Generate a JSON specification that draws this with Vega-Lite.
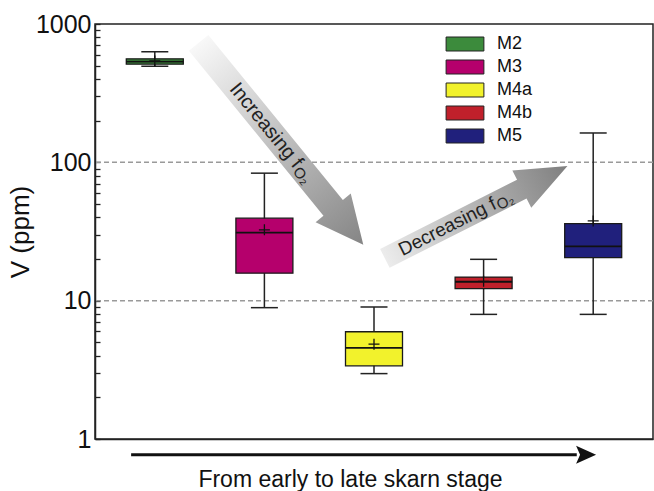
{
  "$schema": "https://vega.github.io/schema/vega-lite/v6.json",
  "width": 558,
  "height": 415,
  "autosize": "none",
  "padding": {"left": 95, "top": 24, "right": 1, "bottom": 52},
  "background": "white",
  "config": {
    "font": "Liberation Sans",
    "view": {"stroke": "#222", "strokeWidth": 1.5}
  },
  "datasets": {
    "stats": [
      {"stage": "M2", "order": 1, "lower": 495, "q1": 512, "median": 535, "q3": 560, "upper": 630, "mean": 540},
      {"stage": "M3", "order": 2, "lower": 8.9, "q1": 15.8, "median": 31, "q3": 39.5, "upper": 83.5, "mean": 32.5},
      {"stage": "M4a", "order": 3, "lower": 2.97, "q1": 3.38, "median": 4.56, "q3": 5.96, "upper": 9.0, "mean": 4.85},
      {"stage": "M4b", "order": 4, "lower": 7.96, "q1": 12.2, "median": 13.7, "q3": 14.8, "upper": 19.9, "mean": 13.8},
      {"stage": "M5", "order": 5, "lower": 7.96, "q1": 20.5, "median": 24.7, "q3": 36, "upper": 163, "mean": 37.7}
    ],
    "guides": [{"v": 10}, {"v": 100}]
  },
  "resolve": {"axis": {"y": "independent"}},
  "layer": [
    {
      "data": {"name": "guides"},
      "mark": {"type": "rule", "color": "#9a9a9a", "strokeWidth": 1.5, "strokeDash": [5, 3]},
      "encoding": {
        "y": {
          "field": "v",
          "type": "quantitative",
          "scale": {"type": "log", "domain": [1, 1000], "nice": false},
          "axis": {
            "orient": "left",
            "title": "V (ppm)",
            "values": [1, 10, 100, 1000],
            "format": "d",
            "grid": false,
            "ticks": false,
            "domainColor": "#222",
            "domainWidth": 1.5,
            "labelPadding": 4,
            "labelFontSize": 25,
            "labelColor": "#111",
            "labelFlush": false,
            "labelOverlap": false,
            "titleFontSize": 26,
            "titleFontWeight": "normal",
            "titleColor": "#111",
            "titlePadding": 2
          }
        }
      }
    },
    {
      "data": {"values": [{"x": 2.151, "y": 136.1}]},
      "mark": {
        "type": "point",
        "shape": "M-1,-0.096L0.634,-0.096L0.634,-0.174L1,0L0.634,0.174L0.634,0.096L-1,0.096Z",
        "size": 67912,
        "angle": 50.8,
        "filled": true,
        "opacity": 1,
        "strokeWidth": 0,
        "fill": {
          "gradient": "linear",
          "x1": 0, "y1": 0, "x2": 1, "y2": 0,
          "stops": [{"offset": 0, "color": "#f8f8f8"}, {"offset": 1, "color": "#858585"}]
        }
      },
      "encoding": {
        "x": {"field": "x", "type": "quantitative"},
        "y": {"field": "y", "type": "quantitative", "axis": null}
      }
    },
    {
      "data": {"values": [{"x": 2.151, "y": 136.1}]},
      "mark": {"type": "text", "text": "Increasing f", "angle": 50.8, "align": "right", "baseline": "middle", "dx": 28, "fontSize": 20, "color": "#222"},
      "encoding": {
        "x": {"field": "x", "type": "quantitative"},
        "y": {"field": "y", "type": "quantitative", "axis": null}
      }
    },
    {
      "data": {"values": [{"x": 2.151, "y": 136.1}]},
      "mark": {"type": "text", "text": "O₂", "angle": 50.8, "align": "left", "baseline": "middle", "dx": 29, "dy": 4, "fontSize": 15, "color": "#222"},
      "encoding": {
        "x": {"field": "x", "type": "quantitative"},
        "y": {"field": "y", "type": "quantitative", "axis": null}
      }
    },
    {
      "data": {"values": [{"x": 3.932, "y": 43.6}]},
      "mark": {
        "type": "point",
        "shape": "M-1,-0.103L0.5,-0.103L0.5,-0.205L1,0L0.5,0.205L0.5,0.103L-1,0.103Z",
        "size": 41861,
        "angle": -26.8,
        "filled": true,
        "opacity": 1,
        "strokeWidth": 0,
        "fill": {
          "gradient": "linear",
          "x1": 0, "y1": 0, "x2": 1, "y2": 0,
          "stops": [{"offset": 0, "color": "#ececec"}, {"offset": 1, "color": "#7f7f7f"}]
        }
      },
      "encoding": {
        "x": {"field": "x", "type": "quantitative"},
        "y": {"field": "y", "type": "quantitative", "axis": null}
      }
    },
    {
      "data": {"values": [{"x": 3.932, "y": 43.6}]},
      "mark": {"type": "text", "text": "Decreasing f", "angle": -26.8, "align": "right", "baseline": "middle", "dx": 21, "fontSize": 19, "color": "#222"},
      "encoding": {
        "x": {"field": "x", "type": "quantitative"},
        "y": {"field": "y", "type": "quantitative", "axis": null}
      }
    },
    {
      "data": {"values": [{"x": 3.932, "y": 43.6}]},
      "mark": {"type": "text", "text": "O₂", "angle": -26.8, "align": "left", "baseline": "middle", "dx": 22, "dy": 4, "fontSize": 15, "color": "#222"},
      "encoding": {
        "x": {"field": "x", "type": "quantitative"},
        "y": {"field": "y", "type": "quantitative", "axis": null}
      }
    },
    {
      "data": {"values": [{"x": 0.784, "x2": 4.85, "y": 0.77}]},
      "mark": {"type": "rule", "color": "#111", "strokeWidth": 3},
      "encoding": {
        "x": {"field": "x", "type": "quantitative"},
        "x2": {"field": "x2"},
        "y": {"field": "y", "type": "quantitative", "axis": null}
      }
    },
    {
      "data": {"values": [{"x": 4.935, "y": 0.77}]},
      "mark": {"type": "point", "shape": "M-1,-0.9L1,0L-1,0.9L-0.6,0Z", "size": 400, "filled": true, "opacity": 1, "color": "#111", "strokeWidth": 0},
      "encoding": {
        "x": {"field": "x", "type": "quantitative"},
        "y": {"field": "y", "type": "quantitative", "axis": null}
      }
    },
    {
      "data": {"name": "stats"},
      "mark": {"type": "rule", "color": "#222", "strokeWidth": 1.5},
      "encoding": {
        "x": {
          "field": "order",
          "type": "quantitative",
          "scale": {"domain": [0.5, 5.5], "nice": false, "zero": false},
          "axis": {
            "title": "From early to late skarn stage",
            "labels": false,
            "ticks": false,
            "grid": false,
            "domainColor": "#222",
            "domainWidth": 1.5,
            "titleFontSize": 23,
            "titleFontWeight": "normal",
            "titleColor": "#111",
            "titleX": 255,
            "titleY": 47,
            "titleBaseline": "alphabetic"
          }
        },
        "y": {
          "field": "lower",
          "type": "quantitative",
          "axis": {
            "orient": "left",
            "offset": -5,
            "values": [1, 2, 3, 4, 5, 6, 7, 8, 9, 10, 20, 30, 40, 50, 60, 70, 80, 90, 100, 200, 300, 400, 500, 600, 700, 800, 900, 1000],
            "labels": false,
            "domain": false,
            "grid": false,
            "title": null,
            "ticks": true,
            "tickSize": 5,
            "tickColor": "#222",
            "tickWidth": 1.3
          }
        },
        "y2": {"field": "upper"}
      }
    },
    {
      "data": {"name": "stats"},
      "mark": {"type": "tick", "orient": "horizontal", "size": 27, "thickness": 1.5, "color": "#222", "opacity": 1},
      "encoding": {
        "x": {"field": "order", "type": "quantitative"},
        "y": {"field": "upper", "type": "quantitative", "axis": null}
      }
    },
    {
      "data": {"name": "stats"},
      "mark": {"type": "tick", "orient": "horizontal", "size": 27, "thickness": 1.5, "color": "#222", "opacity": 1},
      "encoding": {
        "x": {"field": "order", "type": "quantitative"},
        "y": {"field": "lower", "type": "quantitative", "axis": null}
      }
    },
    {
      "data": {"name": "stats"},
      "mark": {"type": "bar", "orient": "vertical", "size": 57, "stroke": "#1a1a1a", "strokeWidth": 1.3, "opacity": 1},
      "encoding": {
        "x": {"field": "order", "type": "quantitative"},
        "y": {"field": "q1", "type": "quantitative", "axis": null},
        "y2": {"field": "q3"},
        "color": {
          "field": "stage",
          "type": "nominal",
          "scale": {
            "domain": ["M2", "M3", "M4a", "M4b", "M5"],
            "range": ["#3c8b3c", "#b5006c", "#f2f22c", "#c0202b", "#20207c"]
          },
          "legend": {
            "orient": "none",
            "legendX": 361,
            "legendY": 11,
            "title": null,
            "padding": 0,
            "symbolType": "M-2.7,-1H2.7V1H-2.7Z",
            "symbolSize": 196,
            "symbolStrokeColor": "#222",
            "symbolStrokeWidth": 1,
            "symbolOpacity": 1,
            "labelFontSize": 18,
            "labelColor": "#111",
            "labelOffset": 23,
            "rowPadding": 5
          }
        }
      }
    },
    {
      "data": {"name": "stats"},
      "mark": {"type": "tick", "orient": "horizontal", "size": 57, "thickness": 1.8, "color": "#111", "opacity": 1},
      "encoding": {
        "x": {"field": "order", "type": "quantitative"},
        "y": {"field": "median", "type": "quantitative", "axis": null}
      }
    },
    {
      "data": {"name": "stats"},
      "mark": {"type": "point", "shape": "M-1,0H1M0,-1V1", "size": 121, "filled": false, "opacity": 1, "color": "#111", "strokeWidth": 1.3},
      "encoding": {
        "x": {"field": "order", "type": "quantitative"},
        "y": {"field": "mean", "type": "quantitative", "axis": null}
      }
    }
  ]
}
